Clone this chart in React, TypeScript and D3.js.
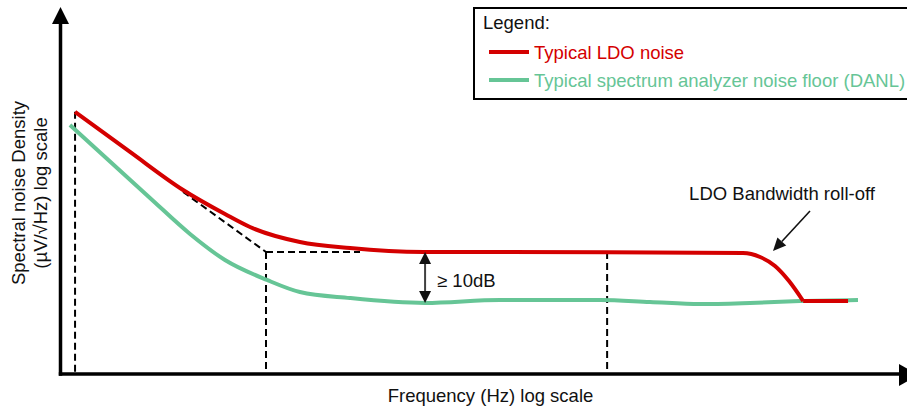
import React from "react";
import * as d3 from "d3";

// ---- data (frequency in Hz, noise density in µV/√Hz, both log scale) ----
const ldoFreq = [1.33, 4.42, 14.1, 35.2, 60.8, 181, 541, 2700, 149000, 2.9e6, 4.21e6, 5.84e6, 7.93e6, 1.08e7];
const ldoNoise = [1.39, 0.653, 0.319, 0.203, 0.159, 0.12, 0.107, 0.0994, 0.099, 0.0975, 0.0905, 0.0764, 0.0575, 0.0395];
const ldoTailFreq = [1.08e7, 2.88e7];
const ldoTailNoise = [0.0395, 0.0395];

const danlFreq = [1.19, 6.84, 16.4, 35.2, 88.2, 181, 541, 2790, 14350, 128000, 380000, 1.13e6, 3.38e6, 1.01e7, 3.58e7];
const danlNoise = [1.087, 0.275, 0.1396, 0.0855, 0.0587, 0.0468, 0.0418, 0.0381, 0.0403, 0.0403, 0.0388, 0.0373, 0.0381, 0.0395, 0.0403];

// guide lines (dashed): from (freqA, noiseA) to (freqB, noiseB)
const guideFreqA = [1.33, 14.1, 86.3, 86.3, 149000];
const guideNoiseA = [1.39, 0.308, 0.0994, 0.0994, 0.0994];
const guideFreqB = [1.33, 86.3, 673, 86.3, 149000];
const guideNoiseB = [0.01, 0.0994, 0.0994, 0.01, 0.01];

const gapFreq = 2790;
const gapTop = 0.0994;
const gapBottom = 0.0381;

const legendLabels = ["Typical LDO noise", "Typical spectrum analyzer noise floor (DANL)"];
const seriesColors = ["#d40000", "#66c596"];

const W = 907;
const H = 407;
const FONT = "'Liberation Sans', Arial, Helvetica, sans-serif";
const FS = 18.5;

export default function App() {
  const x = d3.scaleLog().domain([1, 1e8]).range([62, 905]);
  const y = d3.scaleLog().domain([0.01, 10]).range([374, 7]);

  const curve = d3
    .line<[number, number]>()
    .x((d) => x(d[0]))
    .y((d) => y(d[1]))
    .curve(d3.curveMonotoneX);
  const straight = d3
    .line<[number, number]>()
    .x((d) => x(d[0]))
    .y((d) => y(d[1]));

  const ldoPts: [number, number][] = ldoFreq.map((f, i) => [f, ldoNoise[i]]);
  const ldoTail: [number, number][] = ldoTailFreq.map((f, i) => [f, ldoTailNoise[i]]);
  const danlPts: [number, number][] = danlFreq.map((f, i) => [f, danlNoise[i]]);

  const axisX = 60.5;
  const axisY = 374;

  const gx = x(gapFreq);
  const gy1 = y(gapTop);
  const gy2 = y(gapBottom);

  // annotation arrow for roll-off
  const ax1 = 810, ay1 = 211, ax2 = 773, ay2 = 251;
  const ang = Math.atan2(ay2 - ay1, ax2 - ax1);
  const hl = 13, hw = 6;
  const bx = ax2 - hl * Math.cos(ang), by = ay2 - hl * Math.sin(ang);
  const head = `${ax2},${ay2} ${bx + hw * Math.sin(ang)},${by - hw * Math.cos(ang)} ${bx - hw * Math.sin(ang)},${by + hw * Math.cos(ang)}`;

  return (
    <svg
      width={W}
      height={H}
      viewBox={`0 0 ${W} ${H}`}
      style={{ position: "absolute", left: 0, top: 0, background: "#fff" }}
      fontFamily={FONT}
    >
      <rect x={0} y={0} width={W} height={H} fill="#fff" />

      {/* dashed guides */}
      {guideFreqA.map((f, i) => (
        <line
          key={"g" + i}
          x1={x(f)}
          y1={y(guideNoiseA[i])}
          x2={x(guideFreqB[i])}
          y2={y(guideNoiseB[i])}
          stroke="#000"
          strokeWidth={2}
          strokeDasharray="7,4"
        />
      ))}

      {/* series */}
      <path d={curve(danlPts) || ""} fill="none" stroke={seriesColors[1]} strokeWidth={4} strokeLinejoin="round" />
      <path d={curve(ldoPts) || ""} fill="none" stroke={seriesColors[0]} strokeWidth={4} strokeLinejoin="round" />
      <path d={straight(ldoTail) || ""} fill="none" stroke={seriesColors[0]} strokeWidth={4} />

      {/* axes */}
      <line x1={axisX} y1={22} x2={axisX} y2={axisY + 1.7} stroke="#000" strokeWidth={3.5} />
      <polygon points={`${axisX},7 ${axisX - 8.5},24 ${axisX + 8.5},24`} fill="#000" />
      <line x1={axisX - 1.7} y1={axisY} x2={900} y2={axisY} stroke="#000" strokeWidth={3.5} />
      <polygon points={`919,${axisY + 1} 899,${axisY - 10} 899,${axisY + 12}`} fill="#000" />

      {/* ≥ 10dB double arrow */}
      <line x1={gx} y1={gy1 + 10} x2={gx} y2={gy2 - 10} stroke="#404040" strokeWidth={2} />
      <polygon points={`${gx},${gy1} ${gx - 6},${gy1 + 12} ${gx + 6},${gy1 + 12}`} fill="#111" />
      <polygon points={`${gx},${gy2} ${gx - 6},${gy2 - 12} ${gx + 6},${gy2 - 12}`} fill="#111" />
      <text x={gx + 12} y={(gy1 + gy2) / 2 + 10} fontSize={FS} fill="#111">
        ≥ 10dB
      </text>

      {/* roll-off annotation */}
      <line x1={ax1} y1={ay1} x2={bx} y2={by} stroke="#111" strokeWidth={1.6} />
      <polygon points={head} fill="#111" />
      <text x={782} y={200} fontSize={FS} textAnchor="middle" fill="#111">
        LDO Bandwidth roll-off
      </text>

      {/* axis labels */}
      <text x={490.5} y={401.5} fontSize={FS} textAnchor="middle" fill="#111">
        Frequency (Hz) log scale
      </text>
      <text transform="translate(25,193) rotate(-90)" fontSize={FS} textAnchor="middle" fill="#111">
        Spectral noise Density
      </text>
      <text transform="translate(46.5,193) rotate(-90)" fontSize={FS} textAnchor="middle" fill="#111">
        (µV/√Hz) log scale
      </text>

      {/* legend */}
      <rect x={474} y={8} width={440} height={91} fill="#fff" stroke="#000" strokeWidth={2} />
      <text x={483} y={28.5} fontSize={FS} fill="#111">
        Legend:
      </text>
      {legendLabels.map((lab, i) => (
        <g key={lab}>
          <line x1={489} x2={529} y1={52 + i * 28} y2={52 + i * 28} stroke={seriesColors[i]} strokeWidth={4} />
          <text x={534} y={58.5 + i * 28.8} fontSize={FS} fill={seriesColors[i]}>
            {lab}
          </text>
        </g>
      ))}
    </svg>
  );
}
